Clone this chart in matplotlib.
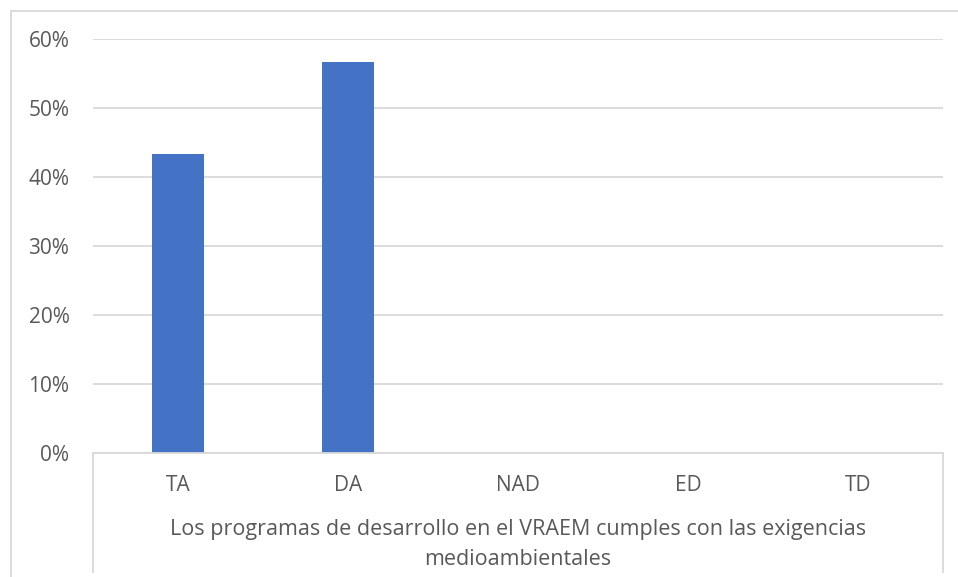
import matplotlib
matplotlib.use('Agg')
import matplotlib.pyplot as plt
from matplotlib.patches import Rectangle
from matplotlib.lines import Line2D

categorias = ['TA', 'DA', 'NAD', 'ED', 'TD']
porcentajes = [0.433, 0.567, 0.0, 0.0, 0.0]
ticks_y = [0.0, 0.1, 0.2, 0.3, 0.4, 0.5, 0.6]
etiquetas_y = ['0%', '10%', '20%', '30%', '40%', '50%', '60%']
grupo = 'Los programas de desarrollo en el VRAEM cumples con las exigencias\nmedioambientales'

plt.rcParams['font.family'] = ['Open Sans', 'DejaVu Sans']
gris_texto = '#595959'
gris_linea = '#D9D9D9'
fs = 15

W, H = 958, 577
fig = plt.figure(figsize=(W / 100, H / 100), dpi=100)

# marco exterior del grafico
fig.patches.append(Rectangle((11 / W, -0.1), 1.2, 1.1 - 11 / H, transform=fig.transFigure,
                             fill=False, edgecolor=gris_linea, linewidth=1.3))

x0, x1, ytop, ybot = 93, 943, 39, 453
ax = fig.add_axes([x0 / W, 1 - ybot / H, (x1 - x0) / W, (ybot - ytop) / H])

ax.bar(range(len(categorias)), porcentajes, width=0.31, color='#4472C4', zorder=3)
ax.set_xlim(-0.5, len(categorias) - 0.5)
ax.set_ylim(0, 0.6)
ax.set_yticks(ticks_y)
ax.set_yticklabels(etiquetas_y, color=gris_texto, fontsize=fs)
ax.set_xticks(range(len(categorias)))
ax.set_xticklabels(categorias, color=gris_texto, fontsize=fs)
ax.tick_params(axis='both', length=0)
ax.tick_params(axis='y', pad=17)
ax.tick_params(axis='x', pad=15.5)
ax.grid(axis='y', color=gris_linea, linewidth=1.3, zorder=0)
for s in ['top', 'right', 'left']:
    ax.spines[s].set_visible(False)
ax.spines['bottom'].set_color(gris_linea)
ax.spines['bottom'].set_linewidth(1.3)
ax.spines['bottom'].set_zorder(4)

# lineas del eje de categorias
bajo = -(572 - ybot) / (ybot - ytop)
for xa in (0, 1):
    ax.add_line(Line2D([xa, xa], [0, bajo], transform=ax.transAxes, clip_on=False,
                       color=gris_linea, linewidth=1.3))

ax.text(0.5, -(544.5 - ybot) / (ybot - ytop), grupo, transform=ax.transAxes,
        ha='center', va='center', color=gris_texto, fontsize=15.5, linespacing=1.52)

fig.savefig('out.png', dpi=100)
